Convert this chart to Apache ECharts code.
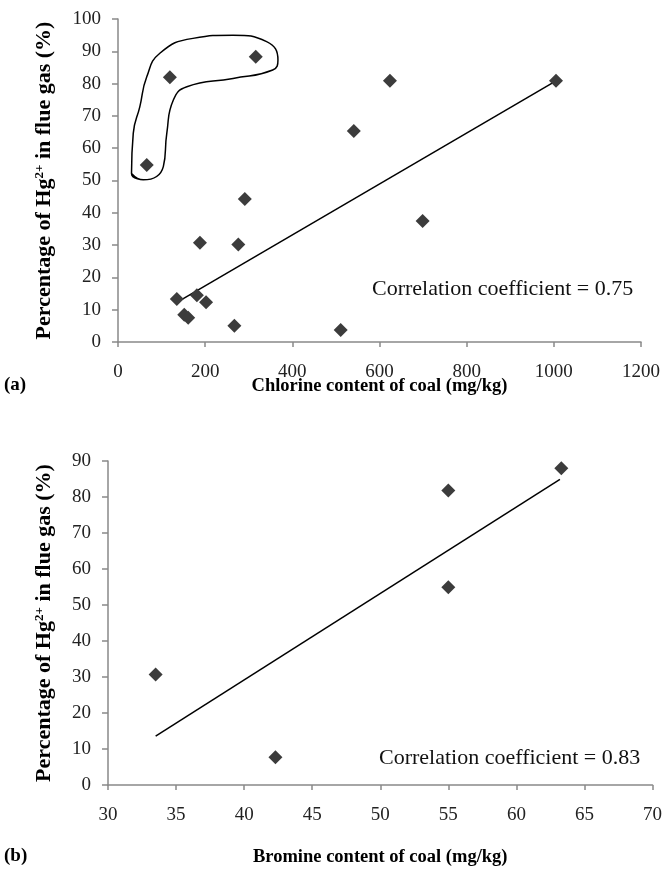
<!DOCTYPE html>
<html>
<head>
<meta charset="utf-8">
<script src="https://cdn.jsdelivr.net/npm/echarts@6/dist/echarts.min.js"></script>
<style>html,body{margin:0;padding:0;background:#fff}#c{width:665px;height:869px}</style>
</head>
<body>
<div id="c"></div>
<script>
// (a) chlorine content vs Hg2+ percentage
var chlorineX = [66, 119, 316, 291, 624, 541, 1005, 699, 511, 188, 276, 135, 181, 202, 152, 161, 267];
var chlorineY = [54.8, 82.0, 88.3, 44.3, 80.9, 65.3, 80.9, 37.5, 3.7, 30.7, 30.2, 13.3, 14.5, 12.3, 8.4, 7.5, 5.0];
var chlorineTrendX = [138, 1002];
var chlorineTrendY = [12.5, 80.6];
// outline around circled points (data coordinates)
var outlineX = [31, 58, 104, 112, 127, 158, 264, 355, 367, 341, 264, 172, 96, 66, 50, 35, 31, 58];
var outlineY = [52.2, 50.2, 54.3, 64.7, 74.9, 79.0, 81.6, 84.2, 87.3, 93.0, 95.0, 94.0, 89.4, 82.1, 72.8, 64.6, 52.2, 50.2];
// (b) bromine content vs Hg2+ percentage
var bromineX = [33.5, 42.3, 55.0, 55.0, 63.3];
var bromineY = [30.7, 7.7, 81.8, 54.9, 88.0];
var bromineTrendX = [33.5, 63.2];
var bromineTrendY = [13.6, 84.9];
var corrA = 'Correlation coefficient = 0.75';
var corrB = 'Correlation coefficient = 0.83';

function zip(a, b) { return a.map(function (v, i) { return [v, b[i]]; }); }

var FONT = '"Liberation Serif", "Times New Roman", serif';
var axisColor = '#898989';
var yName = '{a|Percentage of Hg}{s|2+}{a| in flue gas (%)}';
var yRich = {
  a: { fontFamily: FONT, fontWeight: 'bold', fontSize: 22, color: '#000' },
  s: { fontFamily: FONT, fontWeight: 'bold', fontSize: 13, color: '#000', verticalAlign: 'top', padding: [0, 0, 9, 0] }
};
function xAxisCfg(idx, min, max, interval, name, gap) {
  return {
    type: 'value', gridIndex: idx, min: min, max: max, interval: interval,
    name: name, nameLocation: 'middle', nameGap: gap, nameMoveOverlap: false,
    nameTextStyle: { fontFamily: FONT, fontWeight: 'bold', fontSize: 18.5, color: '#000' },
    axisLine: { show: true, onZero: false, lineStyle: { color: axisColor, width: 1.5 } },
    axisTick: { show: true, inside: false, length: 5, lineStyle: { color: axisColor, width: 1.5 } },
    axisLabel: { margin: 21, fontFamily: FONT, fontSize: 19, color: '#222', formatter: function (v) { return String(v); } },
    splitLine: { show: false }
  };
}
function yAxisCfg(idx, min, max, interval, gap) {
  return {
    type: 'value', gridIndex: idx, min: min, max: max, interval: interval,
    name: yName, nameLocation: 'middle', nameGap: gap, nameRotate: 90, nameMoveOverlap: false,
    nameTextStyle: { rich: yRich },
    axisLine: { show: true, onZero: false, lineStyle: { color: axisColor, width: 1.5 } },
    axisTick: { show: true, inside: false, length: 6, lineStyle: { color: axisColor, width: 1.5 } },
    axisLabel: { margin: 17, fontFamily: FONT, fontSize: 19, color: '#222', formatter: function (v) { return String(v); } },
    splitLine: { show: false }
  };
}
var markerStyle = { color: '#3c3c3c', opacity: 1 };

var chart = echarts.init(document.getElementById('c'), null, { renderer: 'canvas' });
chart.setOption({
  backgroundColor: '#fff',
  animation: false,
  grid: [
    { left: 118, top: 19, width: 523, height: 323 },
    { left: 108, top: 461, width: 545, height: 324 }
  ],
  xAxis: [
    xAxisCfg(0, 0, 1200, 200, 'Chlorine content of coal (mg/kg)', 35),
    xAxisCfg(1, 30, 70, 5, 'Bromine content of coal (mg/kg)', 63)
  ],
  yAxis: [
    yAxisCfg(0, 0, 100, 10, 63),
    yAxisCfg(1, 0, 90, 10, 53)
  ],
  series: [
    { type: 'line', xAxisIndex: 0, yAxisIndex: 0, data: zip(outlineX, outlineY), smooth: 0.5, showSymbol: false, lineStyle: { color: '#000', width: 1.5 }, z: 1 },
    { type: 'line', xAxisIndex: 0, yAxisIndex: 0, data: zip(chlorineTrendX, chlorineTrendY), showSymbol: false, lineStyle: { color: '#000', width: 1.5 }, z: 2 },
    { type: 'scatter', xAxisIndex: 0, yAxisIndex: 0, data: zip(chlorineX, chlorineY), symbol: 'diamond', symbolSize: [14, 14], itemStyle: markerStyle, z: 3 },
    { type: 'line', xAxisIndex: 1, yAxisIndex: 1, data: zip(bromineTrendX, bromineTrendY), showSymbol: false, lineStyle: { color: '#000', width: 1.5 }, z: 2 },
    { type: 'scatter', xAxisIndex: 1, yAxisIndex: 1, data: zip(bromineX, bromineY), symbol: 'diamond', symbolSize: [14, 14], itemStyle: markerStyle, z: 3 }
  ],
  graphic: [
    { type: 'text', left: 372, top: 278, style: { text: corrA, fontFamily: FONT, fontSize: 22, fill: '#111' } },
    { type: 'text', left: 379, top: 747, style: { text: corrB, fontFamily: FONT, fontSize: 22, fill: '#111' } },
    { type: 'text', left: 4, top: 376, style: { text: '(a)', fontFamily: FONT, fontWeight: 'bold', fontSize: 19, fill: '#000' } },
    { type: 'text', left: 4, top: 847, style: { text: '(b)', fontFamily: FONT, fontWeight: 'bold', fontSize: 19, fill: '#000' } }
  ]
});
</script>
</body>
</html>
